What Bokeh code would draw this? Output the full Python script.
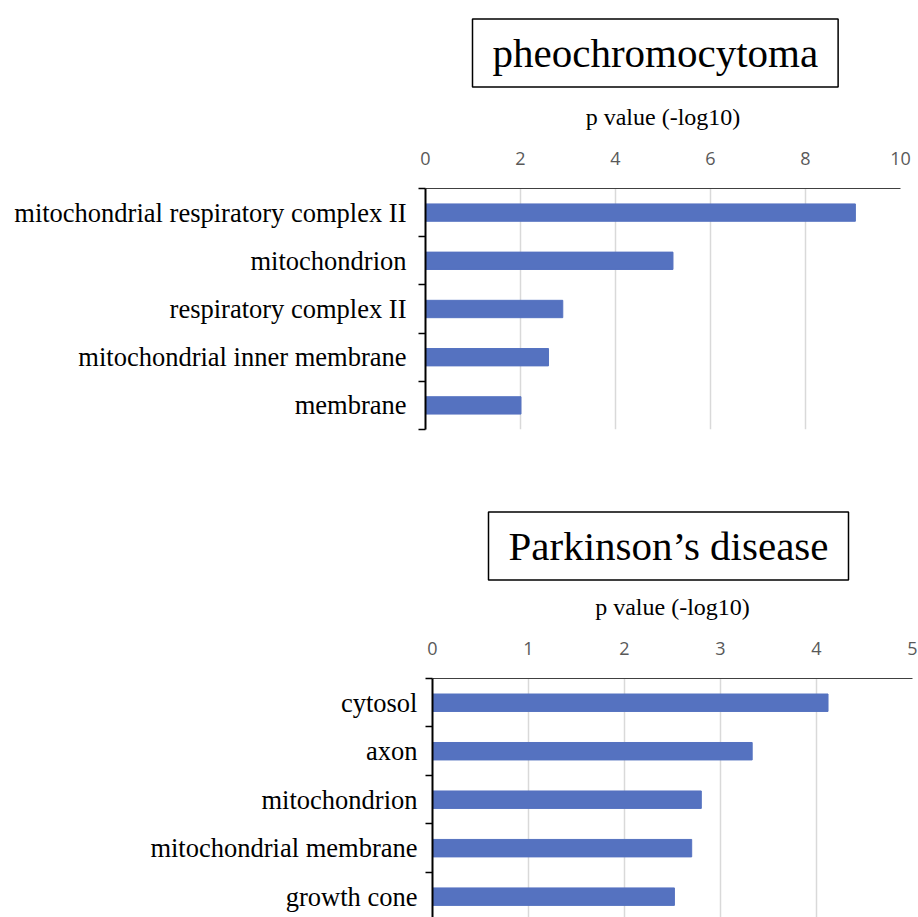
from bokeh.plotting import figure
from bokeh.models import Range1d, FixedTicker, Title
from bokeh.embed import file_html
from bokeh.resources import INLINE

# ---- data ----
top_title = "pheochromocytoma"
top_categories = ["mitochondrial respiratory complex II", "mitochondrion",
                  "respiratory complex II", "mitochondrial inner membrane", "membrane"]
top_values = [9.05, 5.21, 2.89, 2.59, 2.01]
top_xticks = [0, 2, 4, 6, 8, 10]

bot_title = "Parkinson\u2019s disease"
bot_categories = ["cytosol", "axon", "mitochondrion", "mitochondrial membrane", "growth cone"]
bot_values = [4.12, 3.33, 2.80, 2.70, 2.52]
bot_xticks = [0, 1, 2, 3, 4, 5]

axis_title = "p value (-log10)"

BAR = "#5572C0"
SERIF = "Liberation Serif"
SANS = "Open Sans"


def make_chart(title, cats, vals, xticks, width, height, bl, br, bt, bb, ybottom,
               toff, tstand, lab_standoff):
    n = len(cats)
    pos = list(range(n))
    t = Title(text=title, align="left", vertical_align="top", text_font=SERIF,
              text_font_size="41px", text_font_style="normal", text_color="black",
              border_line_color="black", border_line_width=1.5,
              background_fill_color="white", padding=(20, 11), offset=toff, standoff=tstand)
    p = figure(width=width, height=height, title=t,
               x_range=Range1d(xticks[0], xticks[-1]), y_range=Range1d(ybottom, -0.5),
               x_axis_location="above", output_backend="svg", toolbar_location=None,
               min_border_left=bl, min_border_right=br, min_border_top=bt,
               min_border_bottom=bb)
    p.hbar(y=pos, left=0, right=vals, height=0.36, color=BAR, line_color=BAR)

    ax = p.xaxis[0]
    ax.ticker = FixedTicker(ticks=xticks)
    ax.major_tick_line_color = None
    ax.minor_tick_line_color = None
    ax.axis_line_color = "#404040"
    ax.axis_line_width = 1
    ax.major_label_text_font = SANS
    ax.major_label_text_font_size = "18px"
    ax.major_label_text_color = "#595959"
    ax.major_label_standoff = 18
    ax.axis_label = axis_title
    ax.axis_label_text_font = SERIF
    ax.axis_label_text_font_size = "24px"
    ax.axis_label_text_font_style = "normal"
    ax.axis_label_text_color = "black"
    ax.axis_label_standoff = 19

    ya = p.yaxis[0]
    ya.ticker = FixedTicker(ticks=pos, minor_ticks=[i - 0.5 for i in range(n + 1)])
    ya.major_label_overrides = {i: c for i, c in enumerate(cats)}
    ya.major_tick_line_color = None
    ya.major_tick_out = 0
    ya.major_tick_in = 0
    ya.minor_tick_line_color = "black"
    ya.minor_tick_line_width = 1.5
    ya.minor_tick_out = 7
    ya.minor_tick_in = 0
    ya.axis_line_color = "black"
    ya.axis_line_width = 2
    ya.major_label_text_font = SERIF
    ya.major_label_text_font_size = "26.5px"
    ya.major_label_text_color = "black"
    ya.major_label_standoff = lab_standoff

    p.xgrid.grid_line_color = "#d9d9d9"
    p.xgrid.grid_line_width = 1.5
    p.ygrid.grid_line_color = None
    p.outline_line_color = None
    return p


p1 = make_chart(top_title, top_categories, top_values, top_xticks,
                912, 468, 425, 12, 188, 39, 4.5, 47, 23, 12)
p2 = make_chart(bot_title, bot_categories, bot_values, bot_xticks,
                918, 449, 432, 6, 210, 0, 4.43, 56, 17, 8)

open("out.html", "w").write(file_html([p1, p2], INLINE))
